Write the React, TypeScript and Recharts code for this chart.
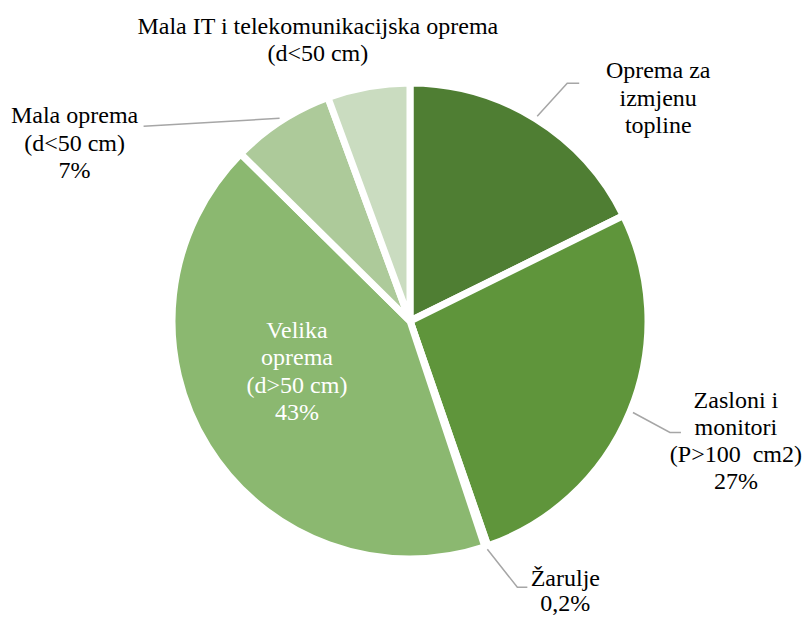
import React from 'react';
import { PieChart, Pie, Cell } from 'recharts';

const categories = [
  'Oprema za izmjenu topline',
  'Zasloni i monitori (P>100  cm2)',
  'Žarulje',
  'Velika oprema (d>50 cm)',
  'Mala oprema (d<50 cm)',
  'Mala IT i telekomunikacijska oprema (d<50 cm)',
];
const shares = [17.7, 27, 0.2, 42.5, 7, 5.6];
const labelText = [
  ['Oprema za', 'izmjenu', 'topline'],
  ['Zasloni i', 'monitori', '(P>100  cm2)', '27%'],
  ['Žarulje', '0,2%'],
  ['Velika', 'oprema', '(d>50 cm)', '43%'],
  ['Mala oprema', '(d<50 cm)', '7%'],
  ['Mala IT i telekomunikacijska oprema', '(d<50 cm)'],
];
const colors = ['#4f7e33', '#5f953b', '#76a94f', '#8bb870', '#adca9a', '#cadcc0'];

const data = categories.map((name, i) => ({ name, value: shares[i] }));

// leader line points (relative to slice edge) and text anchor, per slice
const labelLayout: { line: number[][]; text: number[]; inside?: boolean; fill?: string }[] = [
  { line: [[30, -33], [42, -33]], text: [121, -38] },
  { line: [[37, 20], [48, 20]], text: [103, -5] },
  { line: [[30, 38], [40, 38]], text: [78, 37] },
  { line: [], text: [-113, 17], inside: true, fill: '#ffffff' },
  { line: [[-136, 8]], text: [-205, 5] },
  { line: [], text: [-50, -50] },
];

const RAD = Math.PI / 180;
const LH = 27.3;
const FONT = '"Liberation Serif", "Times New Roman", "DejaVu Serif", serif';

const renderLabel = (props: any) => {
  const { cx, cy, midAngle, outerRadius, index } = props;
  const cfg = labelLayout[index];
  const sx = cx + (outerRadius + 3) * Math.cos(-midAngle * RAD);
  const sy = cy + (outerRadius + 3) * Math.sin(-midAngle * RAD);
  const bx = cfg.inside ? cx : sx;
  const by = cfg.inside ? cy : sy;
  const pts = [[sx, sy], ...cfg.line.map(([dx, dy]) => [sx + dx, sy + dy])];
  const tx = bx + cfg.text[0];
  const ty = by + cfg.text[1];
  const lh = index === 2 ? 25 : LH;
  return (
    <g key={`lbl-${index}`}>
      {cfg.line.length > 0 && (
        <polyline points={pts.map((p) => p.join(',')).join(' ')} fill="none" stroke="#a6a6a6" strokeWidth={1.5} />
      )}
      <text x={tx} y={ty} textAnchor="middle" fontSize={24} fill={cfg.fill || '#000000'} style={{ whiteSpace: 'pre', fontFamily: FONT }}>
        {labelText[index].map((t, i) => (
          <tspan key={i} x={tx} dy={i === 0 ? 0 : lh} style={{ fontFamily: FONT }}>{t}</tspan>
        ))}
      </text>
    </g>
  );
};

export default function App() {
  return (
    <div style={{ position: 'absolute', left: 0, top: 0, width: 804, height: 619, background: '#fff', fontFamily: FONT }}>
      <PieChart width={804} height={619} margin={{ top: 0, right: 0, bottom: 0, left: 0 }}>
        <Pie
          data={data}
          dataKey="value"
          nameKey="name"
          cx={410}
          cy={321}
          outerRadius={238}
          startAngle={90}
          endAngle={-270}
          stroke="#ffffff"
          strokeWidth={7}
          label={renderLabel}
          labelLine={false}
          isAnimationActive={false}
        >
          {data.map((d, i) => <Cell key={d.name} fill={colors[i]} />)}
        </Pie>
      </PieChart>
    </div>
  );
}
